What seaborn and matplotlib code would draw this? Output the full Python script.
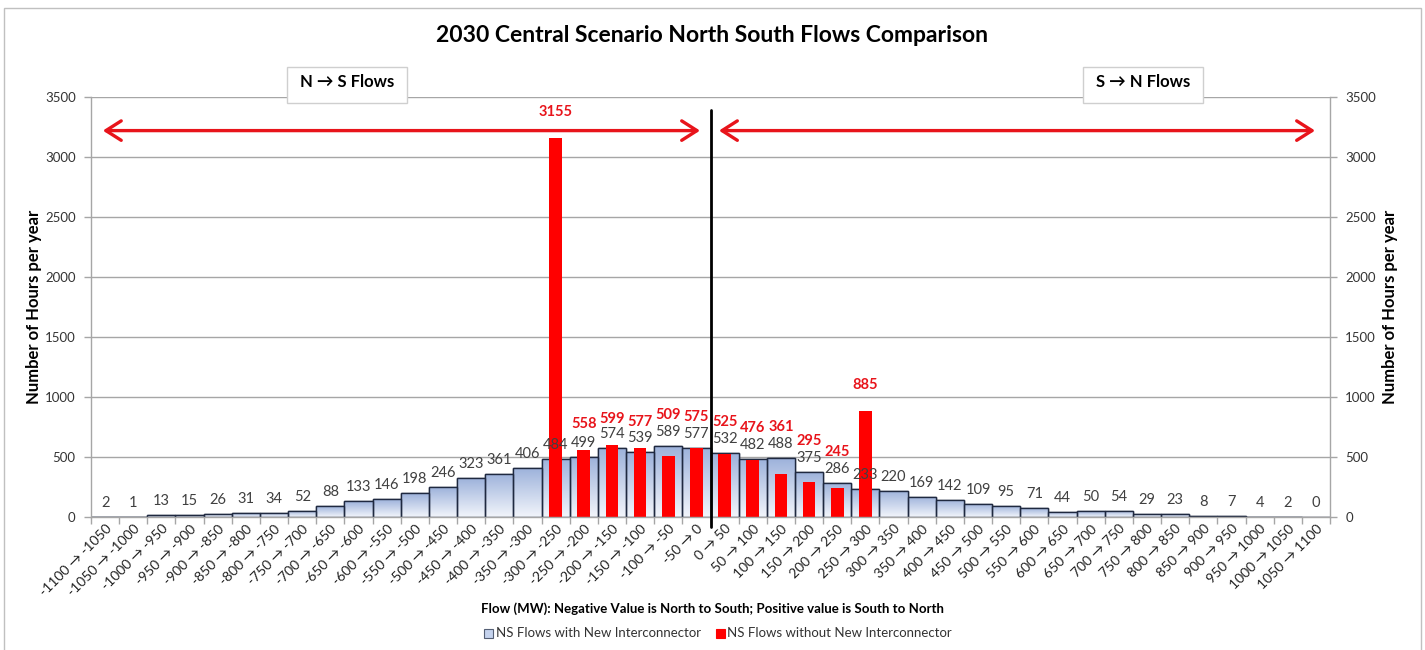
import numpy as np
import pandas as pd
import seaborn as sns
import matplotlib.pyplot as plt
from matplotlib.colors import LinearSegmentedColormap
from matplotlib.patches import Rectangle, FancyArrowPatch

# ---- data -------------------------------------------------------------
bin_edges = list(range(-1100, 1101, 50))
bin_labels = [f"{lo} \u2192 {hi}" for lo, hi in zip(bin_edges[:-1], bin_edges[1:])]

with_new_ic = [2, 1, 13, 15, 26, 31, 34, 52, 88, 133, 146, 198, 246, 323, 361, 406,
               484, 499, 574, 539, 589, 577,
               532, 482, 488, 375, 286, 233, 220, 169, 142, 109, 95, 71, 44, 50, 54,
               29, 23, 8, 7, 4, 2, 0]

nan = np.nan
without_new_ic = [nan] * 16 + [3155, 558, 599, 577, 509, 575,
                               525, 476, 361, 295, 245, 885] + [nan] * 16

series_with = "NS Flows with New Interconnector"
series_without = "NS Flows without New Interconnector"
title = "2030 Central Scenario North South Flows Comparison"
x_title = "Flow (MW): Negative Value is North to South; Positive value is South to North"
y_title = "Number of Hours per year"

df = pd.DataFrame({"bin": bin_labels, "with": with_new_ic, "without": without_new_ic})

# ---- style ------------------------------------------------------------
sns.set_theme(style="white")
plt.rcParams["font.family"] = ["Lato", "DejaVu Sans"]

W, H = 1425, 650
fig = plt.figure(figsize=(W / 100, H / 100), dpi=100)
ax = fig.add_axes([91 / W, 1 - 517 / H, (1330 - 91) / W, (517 - 97) / H])

grid_col = "#a6a6a6"
edge_col = "#1f2940"
red = "#ff0000"
label_red = "#e8141b"

# blue histogram bars (full category width)
sns.barplot(data=df, x="bin", y="with", color="#b4c6e7", width=1.0,
            edgecolor=edge_col, linewidth=1.0, ax=ax, zorder=2, order=bin_labels)
blue_patches = list(ax.patches)

# vertical gradient fill inside each blue bar
grad_cmap = LinearSegmentedColormap.from_list("bluegrad", ["#f2f5fb", "#9db2db"])
grad = np.linspace(0, 1, 256).reshape(-1, 1)
for p in blue_patches:
    x0, w, h = p.get_x(), p.get_width(), p.get_height()
    if h <= 0:
        continue
    im = ax.imshow(grad, cmap=grad_cmap, origin="lower", aspect="auto",
                   extent=[x0, x0 + w, 0, h], zorder=2.1, interpolation="bilinear")
    im.set_clip_path(p)
    outline = Rectangle((x0, 0), w, h, fill=False, edgecolor=edge_col,
                        linewidth=1.0, zorder=2.2)
    ax.add_patch(outline)

# red bars (narrower, centred on the same categories)
sns.barplot(data=df, x="bin", y="without", color=red, width=0.45,
            linewidth=0, ax=ax, zorder=3, order=bin_labels, saturation=1)

ax.set_xlim(-0.5, len(bin_labels) - 0.5)
ax.set_ylim(0, 3500)
ax.set_yticks(range(0, 3501, 500))

# value labels
px = 3500 / (517 - 97)  # data units per pixel
for i, v in enumerate(with_new_ic):
    ax.text(i, v + 14 * px, f"{v}", ha="center", va="center",
            fontsize=10.5, color="#404040", zorder=5)
for i, v in enumerate(without_new_ic):
    if np.isnan(v):
        continue
    b = with_new_ic[i]
    y = v + 26 * px if v > b else b + 31 * px
    ax.text(i, y, f"{int(v)}", ha="center", va="center", fontsize=10.5,
            color=label_red, fontweight="bold", zorder=5)

# axes styling
ax.grid(axis="y", color=grid_col, linewidth=1.0, zorder=0)
ax.grid(axis="x", visible=False)
for s in ["left", "right", "bottom"]:
    ax.spines[s].set_color(grid_col)
    ax.spines[s].set_linewidth(1.0)
ax.spines["top"].set_visible(False)
ax.spines["bottom"].set_zorder(4)

ax.set_xticks(np.arange(len(bin_labels)))
ax.set_xticklabels(bin_labels, rotation=45, ha="right", rotation_mode="anchor",
                   fontsize=10, color="#222222")
ax.set_xticks(np.arange(len(bin_labels) + 1) - 0.5, minor=True)
ax.tick_params(axis="x", which="major", length=0, pad=4)
ax.tick_params(axis="x", which="minor", length=5, color=grid_col, width=1, direction="out", bottom=True)
ax.tick_params(axis="y", length=5, color=grid_col, width=1, direction="out",
               labelsize=9.5, labelcolor="#333333", left=True, pad=6)
ax.set_xlabel("")
ax.set_ylabel(y_title, fontsize=12, fontweight="bold", color="black", labelpad=2)

# secondary axis on the right with the same scale
ax2 = ax.twinx()
ax2.set_ylim(ax.get_ylim())
ax2.set_yticks(range(0, 3501, 500))
ax2.tick_params(axis="y", length=5, color=grid_col, width=1, direction="out",
                labelsize=9.5, labelcolor="#333333", right=True, pad=6)
for s in ax2.spines.values():
    s.set_visible(False)
ax2.set_ylabel(y_title, fontsize=12, fontweight="bold", color="black", labelpad=4)
ax2.grid(False)

# divider between flow directions
ax.plot([21.5, 21.5], [-80, 3390], color="black", linewidth=2, zorder=6, clip_on=False)

# direction arrows
arrow_y = 3220
for x0, x1 in [(-0.08, 21.13), (21.8, 42.97)]:
    ax.add_patch(FancyArrowPatch((x0, arrow_y), (x1, arrow_y),
                                 arrowstyle="<->,head_length=0.55,head_width=0.35",
                                 color=label_red, linewidth=2.4, mutation_scale=20,
                                 zorder=6, shrinkA=0, shrinkB=0))

# direction captions in boxes
for cx, txt in [(347, "N \u2192 S Flows"), (1143, "S \u2192 N Flows")]:
    fig.patches.append(Rectangle(((cx - 60) / W, 1 - 103 / H), 120 / W, 36 / H,
                                 transform=fig.transFigure, facecolor="white",
                                 edgecolor="#cfcfcf", linewidth=1, zorder=10))
    fig.text(cx / W, 1 - 82 / H, txt, ha="center", va="center", fontsize=12,
             fontweight="bold", color="black", zorder=11,
             family=["Lato", "DejaVu Sans"])

# titles and legend
fig.text(712 / W, 1 - 35 / H, title, ha="center", va="center",
         fontsize=16.5, fontweight="bold", color="black")
fig.text(712 / W, 1 - 609 / H, x_title, ha="center", va="center",
         fontsize=9.5, fontweight="bold", color="black")

leg_y = 1 - 633 / H
fig.patches.append(Rectangle((484 / W, leg_y - 4.5 / H), 9 / W, 9 / H, transform=fig.transFigure,
                             facecolor="#c5d3ee", edgecolor="#555f75", linewidth=0.8))
fig.text(496 / W, leg_y, series_with, ha="left", va="center", fontsize=9.5, color="#333333")
fig.patches.append(Rectangle((716 / W, leg_y - 4.5 / H), 9 / W, 9 / H, transform=fig.transFigure,
                             facecolor=red, edgecolor=red, linewidth=0.8))
fig.text(727 / W, leg_y, series_without, ha="left", va="center", fontsize=9.5, color="#333333")

# chart area border
fig.patches.append(Rectangle((4 / W, -0.01), 1417 / W, 1 - 8 / H + 0.01, transform=fig.transFigure,
                             fill=False, edgecolor="#c0c0c0", linewidth=1))

fig.savefig("out.png", dpi=100, facecolor="white")
